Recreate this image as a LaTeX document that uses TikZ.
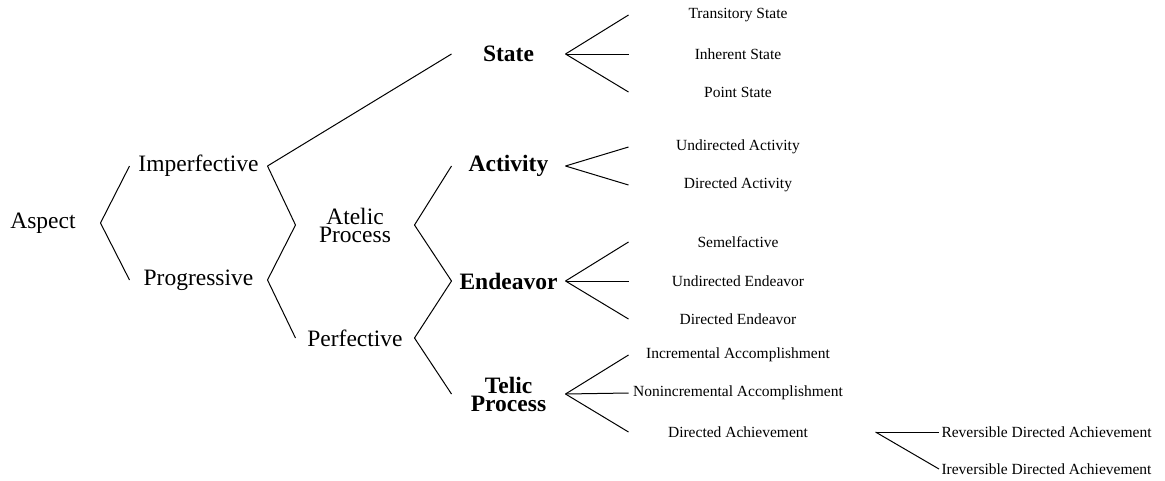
\documentclass[tikz,border=0pt]{standalone}
\usepackage{fontspec}
\setmainfont{Liberation Serif}

\begin{document}
\begin{tikzpicture}[x=1pt, y=-1pt, line width=1pt,
        big/.style={inner sep=0pt, align=center, font=\fontsize{23.5}{18}\selectfont},
        lvlone/.style={big, minimum width=137pt},
        lvltwo/.style={big, minimum width=118pt},
        kind/.style={big, minimum width=113pt, font=\fontsize{23.5}{18}\selectfont\bfseries},
        sub/.style={inner sep=0pt, minimum width=218pt, font=\fontsize{15.5}{18}\selectfont},
        leaf/.style={inner sep=0pt, inner xsep=2pt, anchor=west, font=\fontsize{15.5}{18}\selectfont}]
        \useasboundingbox (0,0) rectangle (1165,480);

        % main levels
        \node [big, minimum width=114pt] (asp) at (43,223) {Aspect};
        \node [lvlone] (imp) at (198.5,166) {Imperfective};
        \node [lvlone] (prog) at (198.5,280) {Progressive};
        \node [lvltwo] (atel) at (355,225) {Atelic\\Process};
        \node [lvltwo] (perf) at (355,338) {Perfective};
        \node [kind] (state) at (508.5,54) {State};
        \node [kind] (act) at (508.5,166) {Activity};
        \node [kind] (endv) at (508.5,281) {Endeavor};
        \node [kind] (telic) at (508.5,394) {Telic\\Process};

        % subtypes
        \node [sub] (ts) at (738,15) {Transitory State};
        \node [sub] (is) at (738,54) {Inherent State};
        \node [sub] (ps) at (738,92) {Point State};
        \node [sub] (ua) at (738,147) {Undirected Activity};
        \node [sub] (da) at (738,185) {Directed Activity};
        \node [sub] (sem) at (738,242) {Semelfactive};
        \node [sub] (ue) at (738,281) {Undirected Endeavor};
        \node [sub] (de) at (738,319) {Directed Endeavor};
        \node [sub] (ia) at (738,355) {Incremental Accomplishment};
        \node [sub] (na) at (738,393) {Nonincremental Accomplishment};
        \node [sub] (dach) at (738,432) {Directed Achievement};
        \node [leaf] (rev) at (939,432) {Reversible Directed Achievement};
        \node [leaf] (irev) at (939,469) {Ireversible Directed Achievement};

        \foreach \a/\b in {asp/imp, asp/prog, imp/state, imp/atel, prog/atel, prog/perf,
            atel/act, atel/endv, perf/endv, perf/telic,
            state/ts, state/is, state/ps, act/ua, act/da,
            endv/sem, endv/ue, endv/de, telic/ia, telic/na, telic/dach}{
            \draw (\a.east) -- (\b.west);
        }

        \coordinate (dachfork) at ([xshift=28pt]dach.east);
        \draw (dachfork) -- (rev.west);
        \draw (dachfork) -- (irev.west);

    \end{tikzpicture}
\end{document}
